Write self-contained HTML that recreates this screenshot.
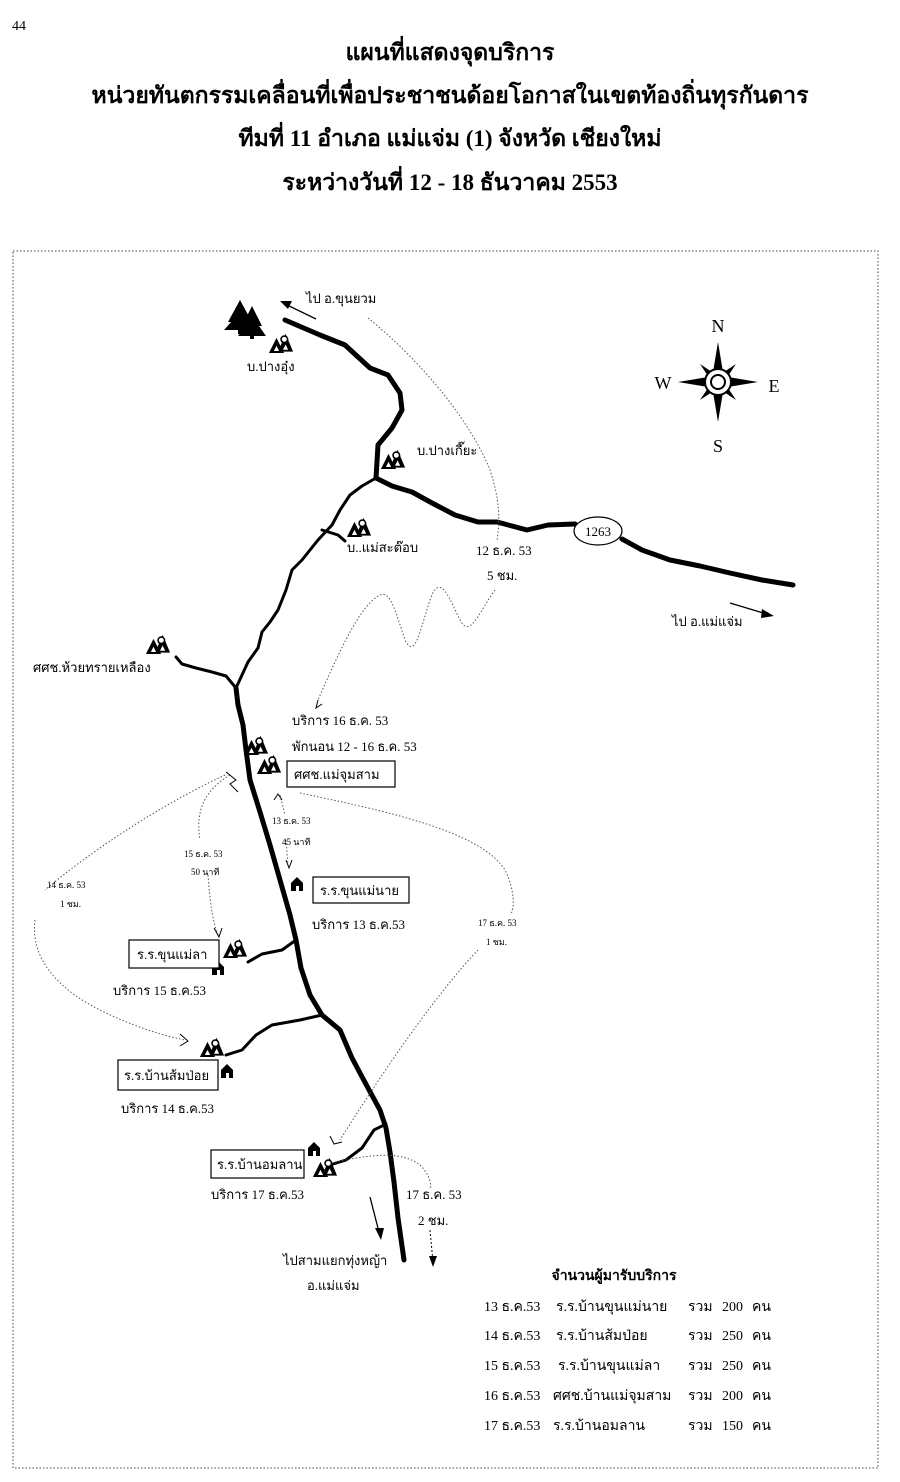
<!DOCTYPE html>
<html><head><meta charset="utf-8"><style>
html,body{margin:0;padding:0;background:#fff;}
svg{display:block;}
text{font-family:"Liberation Serif","Noto Serif CJK SC","Noto Sans CJK SC",serif;fill:#000;}
.t{font-size:23px;font-weight:bold;text-anchor:middle;}
.s{font-size:13px;}
.xs{font-size:9px;}
.r{fill:none;stroke:#000;stroke-width:5;stroke-linecap:round;stroke-linejoin:round;}
.r2{fill:none;stroke:#000;stroke-width:3;stroke-linecap:round;stroke-linejoin:round;}
.d{fill:none;stroke:#555;stroke-width:1;stroke-dasharray:1.5 2;}
.box{fill:#fff;stroke:#000;stroke-width:1.2;}
</style></head><body>
<svg width="900" height="1482" viewBox="0 0 900 1482" xmlns="http://www.w3.org/2000/svg">
<defs>
<g id="tent"><g transform="scale(1.3)"><path d="M0 11 L5 1 L10 11 Z M7 10 L12 -2 L17 10 Z" fill="#000" stroke="#000" stroke-width="1"/><path d="M3 10 L5 6 L7 10 Z M10 9 L12 5 L14 9 Z" fill="#fff"/><circle cx="11" cy="1" r="2.5" fill="#fff" stroke="#000" stroke-width="1.2"/></g></g>
<g id="house"><path d="M0 6 L6 0 L12 6 L12 14 L0 14 Z" fill="#000"/><rect x="5" y="9" width="3" height="5" fill="#fff"/></g>
</defs>
<text x="12" y="30" style="font-size:14px">44</text>
<text class="t" x="450" y="60">แผนที่แสดงจุดบริการ</text>
<text class="t" x="450" y="103">หน่วยทันตกรรมเคลื่อนที่เพื่อประชาชนด้อยโอกาสในเขตท้องถิ่นทุรกันดาร</text>
<text class="t" x="450" y="146">ทีมที่ 11 อำเภอ แม่แจ่ม (1) จังหวัด เชียงใหม่</text>
<text class="t" x="450" y="190">ระหว่างวันที่ 12 - 18 ธันวาคม 2553</text>
<rect x="13" y="251" width="865" height="1217" fill="none" stroke="#444" stroke-width="1" stroke-dasharray="1.5 2"/>

<path class="r" d="M285 320 L320 335 L345 345 L370 368 L388 375 L400 393 L402 410 L392 428 L378 445 L376 478"/>
<path class="r" d="M376 478 L392 486 L412 492 L432 503 L455 515 L478 522 L497 522 L527 530 L548 525 L575 524"/>
<path class="r" d="M622 539 L642 550 L670 560 L700 566 L730 573 L762 580 L793 585"/>
<path class="r2" d="M376 478 L362 486 L350 495 L340 510 L332 525 L318 540 L302 560 L292 570 L286 590 L278 610 L270 622 L262 632 L258 648 L248 662 L236 688"/>
<path class="r2" d="M322 530 L338 535 L345 541"/>
<path class="r2" d="M176 657 L182 664 L196 668 L212 672 L226 676 L236 688"/>
<path class="r" d="M236 688 L238 705 L243 725 L246 750 L250 780 L260 812 L270 845 L280 880 L290 915 L296 940 L301 968 L310 995 L322 1015 L340 1030 L352 1058 L368 1088 L380 1110 L386 1128 L390 1152 L394 1182 L398 1218 L404 1260"/>
<path class="r2" d="M296 940 L282 950 L262 954 L248 962"/>
<path class="r2" d="M322 1015 L300 1020 L272 1025 L256 1035 L242 1050 L226 1055"/>
<path class="r2" d="M386 1124 L374 1130 L362 1148 L346 1160 L330 1165"/>
<ellipse cx="598" cy="531" rx="24" ry="14" fill="#fff" stroke="#000" stroke-width="1.2"/>
<text class="s" x="598" y="536" text-anchor="middle">1263</text>

<path d="M316 319 L283 303" stroke="#000" stroke-width="1.3"/><path d="M280 301 L292 301 L288 309 Z" fill="#000"/>
<path d="M730 603 L770 615" stroke="#000" stroke-width="1.3"/><path d="M774 616 L762 609 L761 618 Z" fill="#000"/>
<path d="M370 1197 L380 1236" stroke="#000" stroke-width="1.3"/><path d="M381 1240 L375 1228 L384 1228 Z" fill="#000"/>
<path d="M430 1230 L433 1262" stroke="#000" stroke-width="1" stroke-dasharray="2 2"/><path d="M433 1267 L429 1256 L437 1256 Z" fill="#000"/>

<path d="M240 300 L228 322 L252 322 Z M240 312 L224 330 L256 330 Z" fill="#000"/><rect x="238" y="328" width="4" height="6"/>
<path d="M252 306 L242 326 L262 326 Z M252 316 L238 336 L266 336 Z" fill="#000"/><rect x="250" y="334" width="4" height="5"/>

<use href="#tent" x="270" y="338"/>
<use href="#tent" x="382" y="454"/>
<use href="#tent" x="348" y="522"/>
<use href="#tent" x="147" y="639"/>
<use href="#tent" x="245" y="740"/>
<use href="#tent" x="258" y="759"/>
<use href="#tent" x="224" y="943"/>
<use href="#tent" x="201" y="1042"/>
<use href="#tent" x="314" y="1162"/>
<use href="#house" x="291" y="877"/>
<use href="#house" x="212" y="961"/>
<use href="#house" x="221" y="1064"/>
<use href="#house" x="308" y="1142"/>

<path class="d" d="M368 318 C420 360 470 420 490 470 C500 500 500 520 497 540"/>
<path class="d" d="M495 590 C480 610 470 640 460 620 C450 600 440 570 430 600 C420 630 415 660 405 640 C395 610 390 590 380 595 C360 605 340 650 318 700"/>
<path d="M318 700 L316 708 L322 704" fill="none" stroke="#000" stroke-width="1"/>
<path class="d" d="M280 795 L285 815 M286 840 L288 865"/>
<path class="d" d="M230 775 C205 790 195 810 200 840 M208 875 C210 900 212 920 218 935"/>
<path class="d" d="M225 775 C150 810 80 860 45 890 M35 920 C30 960 60 990 100 1010 C130 1025 160 1035 185 1040"/>
<path class="d" d="M300 793 C380 810 480 830 505 870 C515 890 515 910 510 915 M478 950 C440 990 390 1060 340 1140"/>
<path class="d" d="M335 1162 C370 1155 400 1150 420 1165 C430 1175 432 1185 430 1190"/>
<path d="M226 772 L236 780 L230 784 L238 792" fill="none" stroke="#000" stroke-width="1"/>
<path d="M274 800 L278 794 L282 800" fill="none" stroke="#000" stroke-width="1"/>
<path d="M286 860 L289 868 L292 860" fill="none" stroke="#000" stroke-width="1"/>
<path d="M214 928 L219 937 L222 928" fill="none" stroke="#000" stroke-width="1"/>
<path d="M180 1034 L188 1041 L180 1046" fill="none" stroke="#000" stroke-width="1"/>
<path d="M330 1136 L334 1144 L342 1142" fill="none" stroke="#000" stroke-width="1"/>

<text class="s" x="306" y="303">ไป อ.ขุนยวม</text>
<text class="s" x="247" y="371">บ.ปางอุ๋ง</text>
<text class="s" x="417" y="455">บ.ปางเกี๊ยะ</text>
<text class="s" x="347" y="552">บ..แม่สะต๊อบ</text>
<text class="s" x="476" y="555">12 ธ.ค. 53</text>
<text class="s" x="487" y="580">5 ชม.</text>
<text class="s" x="672" y="626">ไป อ.แม่แจ่ม</text>
<text class="s" x="33" y="672">ศศช.ห้วยทรายเหลือง</text>
<text class="s" x="292" y="725">บริการ 16 ธ.ค. 53</text>
<text class="s" x="292" y="751">พักนอน 12 - 16 ธ.ค. 53</text>
<rect class="box" x="287" y="761" width="108" height="26"/>
<text class="s" x="294" y="779">ศศช.แม่จุมสาม</text>
<text class="xs" x="272" y="824">13 ธ.ค. 53</text>
<text class="xs" x="282" y="845">45 นาที</text>
<text class="xs" x="184" y="857">15 ธ.ค. 53</text>
<text class="xs" x="191" y="875">50 นาที</text>
<text class="xs" x="47" y="888">14 ธ.ค. 53</text>
<text class="xs" x="60" y="907">1 ชม.</text>
<rect class="box" x="313" y="877" width="96" height="26"/>
<text class="s" x="320" y="895">ร.ร.ขุนแม่นาย</text>
<text class="s" x="312" y="929">บริการ 13 ธ.ค.53</text>
<text class="xs" x="478" y="926">17 ธ.ค. 53</text>
<text class="xs" x="486" y="945">1 ชม.</text>
<rect class="box" x="129" y="940" width="90" height="28"/>
<text class="s" x="137" y="959">ร.ร.ขุนแม่ลา</text>
<text class="s" x="113" y="995">บริการ 15 ธ.ค.53</text>
<rect class="box" x="118" y="1060" width="100" height="30"/>
<text class="s" x="124" y="1080">ร.ร.บ้านส้มป่อย</text>
<text class="s" x="121" y="1113">บริการ 14 ธ.ค.53</text>
<rect class="box" x="211" y="1150" width="93" height="28"/>
<text class="s" x="217" y="1169">ร.ร.บ้านอมลาน</text>
<text class="s" x="211" y="1199">บริการ 17 ธ.ค.53</text>
<text class="s" x="406" y="1199">17 ธ.ค. 53</text>
<text class="s" x="418" y="1225">2 ชม.</text>
<text class="s" x="283" y="1265">ไปสามแยกทุ่งหญ้า</text>
<text class="s" x="307" y="1290">อ.แม่แจ่ม</text>

<g transform="translate(718,382)">
<path d="M0 -40 L5 -10 L0 -14 L-5 -10 Z M0 40 L5 10 L0 14 L-5 10 Z M-40 0 L-10 -5 L-14 0 L-10 5 Z M40 0 L10 -5 L14 0 L10 5 Z" fill="#000"/>
<path d="M-18 -18 L-6 -10 L-10 -6 Z M18 -18 L6 -10 L10 -6 Z M-18 18 L-6 10 L-10 6 Z M18 18 L6 10 L10 6 Z" fill="#000"/>
<circle r="13" fill="#fff" stroke="#000" stroke-width="2"/><circle r="7" fill="#fff" stroke="#000" stroke-width="2"/>
</g>
<text x="718" y="332" text-anchor="middle" style="font-size:18px">N</text>
<text x="718" y="452" text-anchor="middle" style="font-size:18px">S</text>
<text x="663" y="389" text-anchor="middle" style="font-size:18px">W</text>
<text x="774" y="392" text-anchor="middle" style="font-size:18px">E</text>

<text x="614" y="1280" text-anchor="middle" style="font-size:14px;font-weight:bold">จำนวนผู้มารับบริการ</text>
<g style="font-size:14px">
<text x="484" y="1311">13 ธ.ค.53</text><text x="556" y="1311">ร.ร.บ้านขุนแม่นาย</text><text x="688" y="1311">รวม</text><text x="722" y="1311">200</text><text x="752" y="1311">คน</text>
<text x="484" y="1340">14 ธ.ค.53</text><text x="556" y="1340">ร.ร.บ้านส้มป่อย</text><text x="688" y="1340">รวม</text><text x="722" y="1340">250</text><text x="752" y="1340">คน</text>
<text x="484" y="1370">15 ธ.ค.53</text><text x="558" y="1370">ร.ร.บ้านขุนแม่ลา</text><text x="688" y="1370">รวม</text><text x="722" y="1370">250</text><text x="752" y="1370">คน</text>
<text x="484" y="1400">16 ธ.ค.53</text><text x="553" y="1400">ศศช.บ้านแม่จุมสาม</text><text x="688" y="1400">รวม</text><text x="722" y="1400">200</text><text x="752" y="1400">คน</text>
<text x="484" y="1430">17 ธ.ค.53</text><text x="553" y="1430">ร.ร.บ้านอมลาน</text><text x="688" y="1430">รวม</text><text x="722" y="1430">150</text><text x="752" y="1430">คน</text>
</g>
</svg>
</body></html>
